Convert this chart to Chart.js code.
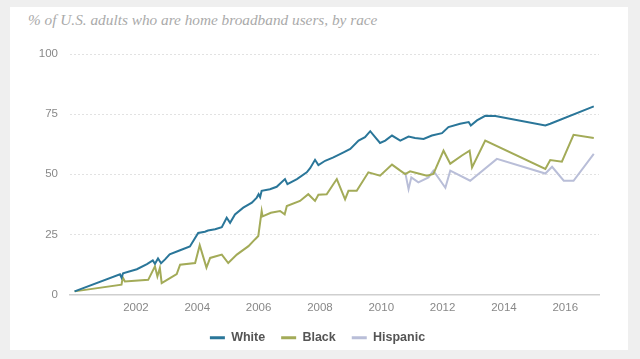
<!DOCTYPE html>
<html><head><meta charset="utf-8">
<script src="https://cdn.jsdelivr.net/npm/chart.js@4"></script>
<style>
html,body{margin:0;padding:0;width:640px;height:359px;background:#efefef;overflow:hidden}
#card{position:absolute;left:10px;top:7px;width:618px;height:343px;background:#fff}
#title{position:absolute;left:28px;top:11px;font:italic 15.3px "Liberation Serif",serif;color:#aaa;white-space:nowrap}
#wrap{position:absolute;left:0;top:0;width:640px;height:359px}
</style></head>
<body>
<div id="card"></div>
<div id="title">% of U.S. adults who are home broadband users, by race</div>
<div id="wrap"><canvas id="c" width="640" height="359"></canvas></div>
<script>
const seriesNames = ["White", "Black", "Hispanic"];
const xTickYears = [2002, 2004, 2006, 2008, 2010, 2012, 2014, 2016];
const yTickValues = [0, 25, 50, 75, 100];

const whiteYears = [2000.0,2001.48,2001.53,2001.58,2002.03,2002.36,2002.55,2002.62,2002.72,2002.82,2002.95,2003.1,2003.44,2003.76,2004.03,2004.25,2004.35,2004.58,2004.8,2004.96,2005.07,2005.23,2005.5,2005.78,2005.94,2006.0,2006.05,2006.1,2006.37,2006.59,2006.86,2006.94,2007.25,2007.57,2007.68,2007.84,2007.95,2008.17,2008.44,2008.77,2008.99,2009.26,2009.47,2009.64,2009.8,2009.96,2010.13,2010.35,2010.62,2010.89,2011.1,2011.38,2011.65,2011.98,2012.19,2012.57,2012.85,2012.92,2013.12,2013.39,2013.72,2015.35,2015.51,2016.93];
const whiteValues = [1.3,8.4,7.0,8.8,10.5,12.6,14.2,12.8,15.0,13.0,14.6,16.7,18.4,20.0,25.6,26.1,26.6,27.1,28.0,31.9,29.8,33.3,36.1,38.2,40.3,41.7,40.5,43.1,43.8,44.8,48.0,45.9,48.0,50.8,52.5,56.0,53.8,55.6,57.0,59.1,60.5,64.0,65.4,67.9,65.4,63.0,64.0,66.1,64.0,65.7,65.1,64.7,66.1,67.1,69.6,71.0,71.7,70.3,72.4,74.3,74.2,70.3,71.0,78.2];

const blackYears = [2000.0,2001.53,2001.57,2001.64,2002.4,2002.62,2002.7,2002.78,2002.84,2003.11,2003.33,2003.44,2003.93,2004.08,2004.3,2004.42,2004.8,2005.01,2005.29,2005.67,2005.88,2005.99,2006.1,2006.13,2006.4,2006.7,2006.85,2006.92,2007.35,2007.62,2007.84,2007.95,2008.22,2008.55,2008.82,2008.93,2009.2,2009.58,2009.96,2010.35,2010.62,2010.78,2010.94,2011.21,2011.49,2011.7,2012.03,2012.25,2012.63,2012.88,2012.96,2013.39,2015.35,2015.51,2015.89,2016.27,2016.93];
const blackValues = [1.3,4.1,7.1,5.4,6.1,11.7,7.5,11.0,4.7,6.8,8.5,12.4,13.1,20.5,11.2,15.2,16.6,13.1,16.6,20.1,22.9,24.3,34.7,32.5,34.0,34.7,33.3,36.8,38.9,41.7,38.9,41.5,41.7,48.0,39.6,43.1,43.1,50.8,49.4,54.0,51.5,50.1,51.2,50.3,49.4,50.1,59.8,54.4,57.8,59.8,52.8,64.0,52.2,55.9,55.2,66.4,65.1];

const hispanicYears = [2010.78,2010.89,2010.98,2011.21,2011.54,2011.7,2012.09,2012.25,2012.9,2013.77,2015.35,2015.57,2015.95,2016.27,2016.93];
const hispanicValues = [50.8,43.8,48.7,46.6,48.7,51.5,44.4,51.5,47.3,56.4,50.3,53.1,47.3,47.3,58.5];

const colors = ["#2a7699", "#a3ab58", "#b9bed8"];
const pts = (xs, ys) => xs.map((x, i) => ({x: x, y: ys[i]}));
const allX = [whiteYears, blackYears, hispanicYears];
const allY = [whiteValues, blackValues, hispanicValues];

const datasets = seriesNames.map((n, i) => ({
  label: n,
  data: pts(allX[i], allY[i]),
  borderColor: colors[i],
  backgroundColor: colors[i],
  borderWidth: 2,
  pointRadius: 0,
  tension: 0,
  fill: false,
  order: i
}));

const tickFont = {family: "'Liberation Sans', Arial, sans-serif", size: 11.5};

new Chart(document.getElementById('c'), {
  type: 'line',
  data: {datasets: datasets},
  options: {
    responsive: false,
    animation: false,
    layout: {padding: {top: 54, right: 41, bottom: 5, left: 36}},
    plugins: {
      title: {display: false},
      tooltip: {enabled: false},
      legend: {
        position: 'bottom',
        labels: {
          boxWidth: 15,
          boxHeight: 3,
          padding: 16,
          color: '#555',
          font: {family: "'Liberation Sans', Arial, sans-serif", size: 12.5, weight: 'bold'},
          generateLabels: (chart) => chart.data.datasets.map((d, i) => ({
            text: d.label, fillStyle: d.borderColor, strokeStyle: d.borderColor,
            lineWidth: 0, hidden: false, datasetIndex: i, fontColor: '#555'
          }))
        }
      }
    },
    scales: {
      x: {
        type: 'linear',
        min: 1999.85,
        max: 2017.1,
        afterBuildTicks: (s) => { s.ticks = xTickYears.map(v => ({value: v})); },
        afterFit: (s) => { s.height = 21; },
        ticks: {color: '#888', font: tickFont, padding: 6, maxRotation: 0, callback: (v) => String(v)},
        grid: {display: false, drawTicks: false},
        border: {display: true, color: '#cfcfcf', width: 1.5}
      },
      y: {
        min: 0,
        max: 100,
        afterBuildTicks: (s) => { s.ticks = yTickValues.map(v => ({value: v})); },
        afterFit: (s) => { s.width = 34; },
        ticks: {color: '#888', font: tickFont, padding: 12},
        grid: {color: '#e2e2e2', lineWidth: 1, drawTicks: false},
        border: {display: false, dash: [2, 2]}
      }
    }
  }
});
</script>
</body></html>
